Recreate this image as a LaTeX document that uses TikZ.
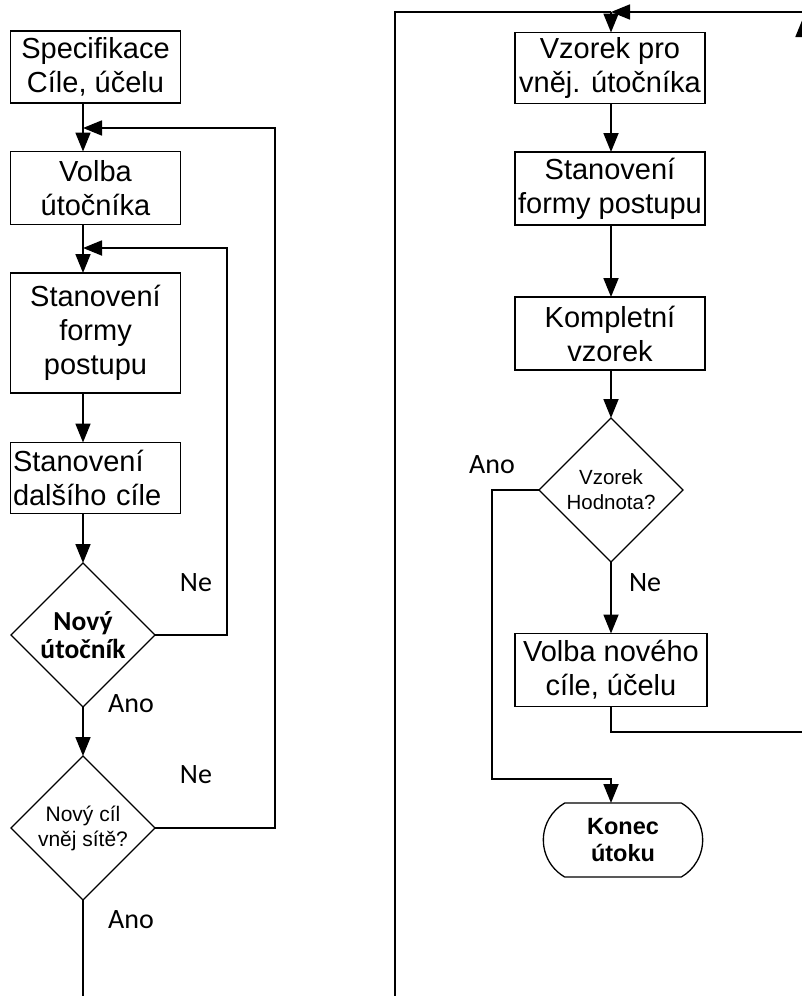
\documentclass[tikz,border=0pt]{standalone}
\usepackage{fontspec}
\setmainfont{Liberation Sans}
\newfontfamily\calfont{Carlito}
\usetikzlibrary{shapes.geometric,shapes.misc,arrows.meta}
\tikzset{fbox/.style={draw,line width=1.6pt,align=center,inner sep=1pt,outer sep=0pt,font=\fontsize{29}{34}\selectfont}}
\tikzset{fdecide/.style={draw,diamond,aspect=1,line width=1.1pt,minimum width=144pt,minimum height=144pt,inner sep=0pt,outer sep=0pt,align=center,font=\fontsize{21}{25}\selectfont}}
\tikzset{fend/.style={draw,rounded rectangle,rounded rectangle arc length=120,line width=1.3pt,minimum width=166pt,minimum height=74pt,outer sep=0pt,align=center,font=\fontsize{23.5}{27}\selectfont\bfseries}}
\tikzset{fline/.style={draw,line width=1.8pt}}
\tikzset{farrow/.style={fline,-{Triangle[length=19pt,width=15pt]}}}
\tikzset{flabel/.style={font=\calfont\fontsize{28}{30}\selectfont}}

\begin{document}
\begin{tikzpicture}[x=1pt,y=-1pt]
    \useasboundingbox (0,0) rectangle (801,996);

    % left column
    \coordinate (axisL) at (83,0);
    \node[fbox,minimum width=170pt,minimum height=72pt] (spec) at (95.5,67) {Specifikace\\C\'ile, \'u\v celu};
    \node[fbox,minimum width=170pt,minimum height=73pt] (volba) at (95.5,188) {Volba\\\'uto\v cn\'ika};
    \node[fbox,minimum width=170pt,minimum height=120pt] (forma) at (95.5,333) {Stanoven\'i\\formy\\postupu};
    \node[fbox,minimum width=170pt,minimum height=71pt,text width=165pt,align=left] (dalsi) at (95.5,478) {Stanoven\'i\\dal\v s\'iho c\'ile};
    \node[fdecide,font=\calfont\fontsize{27.5}{28}\selectfont\bfseries] (novyut) at (83,635) {Nov\'y\\\'uto\v cn\'ik};
    \node[fdecide] (novycil) at (83,828) {Nov\'y c\'il\\vn\v ej s\'it\v e?};

    \coordinate (loopA) at (83,128);
    \coordinate (loopAr) at (275,128);
    \coordinate (loopB) at (83,248);
    \coordinate (loopBr) at (227,248);
    \coordinate (endL) at (83,996);

    \draw[farrow] (spec.south -| axisL) -- (volba.north -| axisL);
    \draw[farrow] (volba.south -| axisL) -- (forma.north -| axisL);
    \draw[farrow] (forma.south -| axisL) -- (dalsi.north -| axisL);
    \draw[farrow] (dalsi.south -| axisL) -- (novyut.north);
    \draw[farrow] (novyut.south) -- (novycil.north);
    \draw[fline] (novycil.south) -- (endL);
    \draw[farrow] (novyut.east) -| (loopBr) -- (loopB);
    \draw[farrow] (novycil.east) -| (loopAr) -- (loopA);

    \node[flabel] (ne1) at (196,583) {Ne};
    \node[flabel] (ano1) at (131,704) {Ano};
    \node[flabel] (ne2) at (196,775) {Ne};
    \node[flabel] (ano2) at (131,920) {Ano};

    % right column
    \coordinate (axisR) at (611,0);
    \node[fbox,minimum width=190pt,minimum height=71pt] (vzorek) at (610,68) {Vzorek pro\\vn\v ej. \'uto\v cn\'ika};
    \node[fbox,minimum width=190pt,minimum height=73pt] (formaR) at (610,188.5) {Stanoven\'i\\formy postupu};
    \node[fbox,minimum width=190pt,minimum height=73pt] (kompl) at (610,333.5) {Kompletn\'i\\vzorek};
    \node[fdecide,font=\fontsize{20.5}{25}\selectfont] (hodnota) at (611,490) {Vzorek\\Hodnota?};
    \node[fbox,minimum width=192pt,minimum height=73pt] (novycilR) at (611,670) {Volba nov\'eho\\c\'ile, \'u\v celu};
    \node[fend] (konec) at (623,840) {Konec\\\'utoku};

    \coordinate (pageL) at (395,996);
    \coordinate (joinR) at (611,12);
    \coordinate (topR) at (803,12);
    \coordinate (tipR) at (803,18);
    \coordinate (botR) at (803,732);
    \coordinate (anoR) at (492,779);

    \draw[fline] (pageL) |- (joinR);
    \draw[farrow] (topR) -- (joinR);
    \draw[farrow] (joinR) -- (vzorek.north -| axisR);
    \draw[farrow] (vzorek.south -| axisR) -- (formaR.north -| axisR);
    \draw[farrow] (formaR.south -| axisR) -- (kompl.north -| axisR);
    \draw[farrow] (kompl.south -| axisR) -- (hodnota.north);
    \draw[farrow] (hodnota.south) -- (novycilR.north);
    \draw[farrow] (hodnota.west) -| (anoR) -| (konec.north -| axisR);
    \draw[farrow] (novycilR.south) |- (botR) -- (tipR);

    \node[flabel] (ano3) at (492,465) {Ano};
    \node[flabel] (ne3) at (645,583) {Ne};

\end{tikzpicture}
\end{document}
